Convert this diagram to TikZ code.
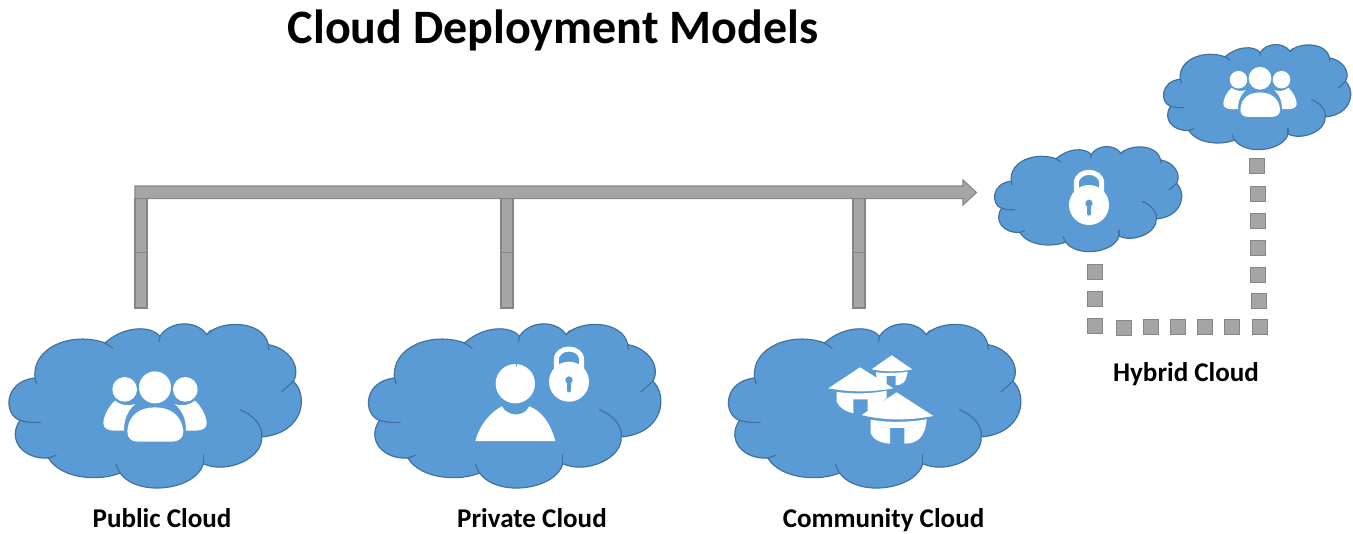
\documentclass[tikz,border=0pt]{standalone}
\usepackage{fontspec}
\setmainfont{Carlito}
\definecolor{cloudFill}{HTML}{5B9BD5}
\definecolor{cloudEdge}{HTML}{41719C}
\definecolor{barFill}{HTML}{A5A5A5}
\definecolor{barEdge}{HTML}{858585}
\tikzset{
  pics/cloudShape/.style={code={
    \begin{scope}[shift={(-465,-286)}]
    \draw[cloudDecorate] (105,205)
      .. controls (95,110) and (220,65) .. (315,100)
      .. controls (370,50) and (450,45) .. (480,80)
      .. controls (510,32) and (590,30) .. (620,75)
      .. controls (660,30) and (790,30) .. (805,105)
      .. controls (865,115) and (905,170) .. (880,215)
      .. controls (925,255) and (915,370) .. (785,382)
      .. controls (790,445) and (680,495) .. (610,462)
      .. controls (590,540) and (415,565) .. (360,490)
      .. controls (300,515) and (185,510) .. (145,445)
      .. controls (70,450) and (20,390) .. (60,332)
      .. controls (10,315) and (10,215) .. (105,205) -- cycle;
    %% creases
    \draw[creaseDecorate] (105,205) -- (110,222);
    \draw[creaseDecorate] (315,100) -- (338,115);
    \draw[creaseDecorate] (480,80) -- (477,96);
    \draw[creaseDecorate] (620,75) -- (632,62);
    \draw[creaseDecorate] (805,105) -- (806,120);
    \draw[creaseDecorate] (880,215) -- (845,246);
    \draw[creaseDecorate] (785,382) .. controls (790,350) and (760,315) .. (720,300);
    \draw[creaseDecorate] (610,462) -- (610,435);
    \draw[creaseDecorate] (360,490) -- (348,465);
    \draw[creaseDecorate] (145,445) -- (168,437);
    \draw[creaseDecorate] (60,332) .. controls (80,338) and (100,340) .. (122,338);
    \end{scope}
  }},
  pics/peopleIcon/.style={code={
    \fill[iconDecorate] (0,-58) circle (48);
    \foreach \sgn in {-1,1} {
      \fill[iconDecorate] (\sgn*91,-52) circle (37);
      \fill[iconDecorate] (\sgn*120,-18) .. controls (\sgn*140,0) and (\sgn*155,30) .. (\sgn*155,50)
        .. controls (\sgn*155,65) and (\sgn*140,72) .. (\sgn*120,72)
        -- (\sgn*93,72) .. controls (\sgn*93,50) and (\sgn*90,20) .. (\sgn*60,-8)
        .. controls (\sgn*80,0) and (\sgn*105,-5) .. (\sgn*120,-18) -- cycle;
    }
    \fill[iconDecorate] (-83,75) .. controls (-80,20) and (-40,2) .. (0,2)
      .. controls (40,2) and (80,20) .. (85,75)
      .. controls (85,95) and (70,105) .. (50,105) -- (-50,105)
      .. controls (-70,105) and (-83,95) .. (-83,75) -- cycle;
  }},
  pics/lockIcon/.style={code={
    \draw[shackleDecorate] (-38,-30) -- (-38,-65) .. controls (-38,-109) and (38,-109) .. (38,-65) -- (38,-30);
    \fill[iconDecorate] (0,0) circle (60);
    \fill[cloudFill] (0,-5) circle (11);
    \draw[keyDecorate] (0,-5) -- (0,27);
  }},
  pics/personIcon/.style={code={
    \fill[iconDecorate] (0,-64) circle (59);
    \fill[cloudFill] (0,-125) -- (6,-125) -- (5,-113) -- cycle;
    \fill[iconDecorate] (-120,108) .. controls (-105,54) and (-70,19) .. (-40,4)
      .. controls (-25,34) and (25,39) .. (42,4)
      .. controls (80,19) and (105,54) .. (120,108) -- cycle;
  }},
  pics/houseIcon/.style={code={
    \begin{scope}[shift={(-480,-286)}]
    %% back house
    \fill[iconDecorate] (455,178) -- (515,136) -- (577,178) .. controls (540,186) and (490,186) .. (455,178) -- cycle;
    \fill[iconDecorate] (468,187) -- (470,212) .. controls (478,222) and (490,225) .. (500,226) -- (500,198) -- (527,198) -- (527,226)
      .. controls (545,225) and (558,220) .. (563,185) .. controls (530,190) and (500,190) .. (468,187) -- cycle;
    %% left house
    \fill[iconDecorate] (325,235) -- (420,172) -- (520,235) .. controls (450,248) and (385,246) .. (325,235) -- cycle;
    \fill[iconDecorate] (350,246) -- (350,275) .. controls (358,295) and (380,306) .. (400,310) -- (400,268) -- (443,268) -- (443,310) -- (500,264) -- (500,242)
      .. controls (450,252) and (400,252) .. (350,246) -- cycle;
    %% front house
    \fill[iconDecorate] (425,315) -- (530,247) -- (640,318) .. controls (570,332) and (490,332) .. (425,315) -- cycle;
    \fill[iconDecorate] (452,329) -- (452,370) .. controls (460,390) and (485,400) .. (510,401) -- (510,354) -- (553,354) -- (553,401)
      .. controls (590,401) and (615,385) .. (620,328) .. controls (560,338) and (500,338) .. (452,329) -- cycle;
    \end{scope}
  }}
}
\begin{document}
\begin{tikzpicture}
[x=0.75pt,y=-0.75pt,
  cloudDecorate/.style={draw=cloudEdge,fill=cloudFill,line width=0.9pt,line join=round},
  creaseDecorate/.style={draw=cloudEdge,line width=0.9pt,line cap=round},
  iconDecorate/.style={fill=white},
  shackleDecorate/.style={draw=white,line width=3.75pt},
  keyDecorate/.style={draw=cloudFill,line width=2.5pt,line cap=round},
  barDecorate/.style={draw=barEdge,fill=barFill,line width=0.8pt},
  squareDecorate/.style={shape=rectangle,draw=barEdge,fill=barFill,line width=0.8pt,inner sep=0pt,minimum size=11.4pt},
  labelDecorate/.style={font=\fontsize{20.3}{24}\bfseries\selectfont,text=black,inner sep=0pt,anchor=base},
  titleDecorate/.style={font=\fontsize{36}{43}\bfseries\selectfont,text=black,inner sep=0pt,anchor=base}]
\useasboundingbox (0,0) rectangle (1353,533);
%% title and labels
\node (title) at (553,43.5) [titleDecorate] {Cloud Deployment Models};
\foreach \nodename/\x/\y/\txt in {
  publicLabel/162/527.5/Public Cloud,
  privateLabel/532/527.5/Private Cloud,
  communityLabel/883.5/527.5/Community Cloud,
  hybridLabel/1186/381/Hybrid Cloud}
{
  \node (\nodename) at (\x,\y) [labelDecorate] {\txt};
}
%% bars and arrow
\foreach \barname/\x in {public/135, private/501, community/853}
{
  \coordinate (\barname A) at (\x,198.7);
  \coordinate (\barname B) at (\x+12,252.7);
  \coordinate (\barname C) at (\x,252.7);
  \coordinate (\barname D) at (\x+12,308);
  \draw[barDecorate] (\barname A) rectangle (\barname B);
  \draw[barDecorate] (\barname C) rectangle (\barname D);
}
\coordinate (shaftA) at (135,186);
\coordinate (shaftB) at (963,186);
\coordinate (headA) at (963,180);
\coordinate (headTip) at (976.5,192.5);
\coordinate (headB) at (963,205);
\coordinate (shaftC) at (963,198.7);
\coordinate (shaftD) at (135,198.7);
\draw[barDecorate] (shaftA) -- (shaftB) -- (headA) -- (headTip) -- (headB) -- (shaftC) -- (shaftD) -- cycle;
%% clouds
\foreach \nodename/\x/\y/\sc in {
  publicCloud/155/405/0.3333,
  privateCloud/514.5/405/0.3333,
  communityCloud/874.5/405/0.3333,
  lockCloud/1088/198.5/0.2133,
  peopleCloud/1257/96.5/0.2133}
{
  \pic[scale=\sc] (\nodename) at (\x,\y) {cloudShape};
}
%% icons
\pic[scale=0.3333] (publicPeople) at (155,406.7) {peopleIcon};
\pic[scale=0.2367] (hybridPeople) at (1260,92) {peopleIcon};
\pic[scale=0.3333] (privatePerson) at (515.3,405) {personIcon};
\pic[scale=0.3333] (privateLock) at (569,381.7) {lockIcon};
\pic[scale=0.3333] (hybridLock) at (1089,205) {lockIcon};
\pic[scale=0.3333] (communityHouses) at (880,405.3) {houseIcon};
%% dotted link
\foreach \nodename/\x/\y in {
  s1/1257.3/166.3, s2/1258/193.7, s3/1258/221, s4/1258/248, s5/1258/274.7,
  s6/1259.3/300.7, s7/1260/327.3, s8/1232/327.3, s9/1205.3/327.3, s10/1178.3/327.3,
  s11/1151.3/327.3, s12/1124/328, s13/1095/326, s14/1095/299.3, s15/1095/272.3}
{
  \node (\nodename) at (\x,\y) [squareDecorate] {};
}
\end{tikzpicture}
\end{document}
